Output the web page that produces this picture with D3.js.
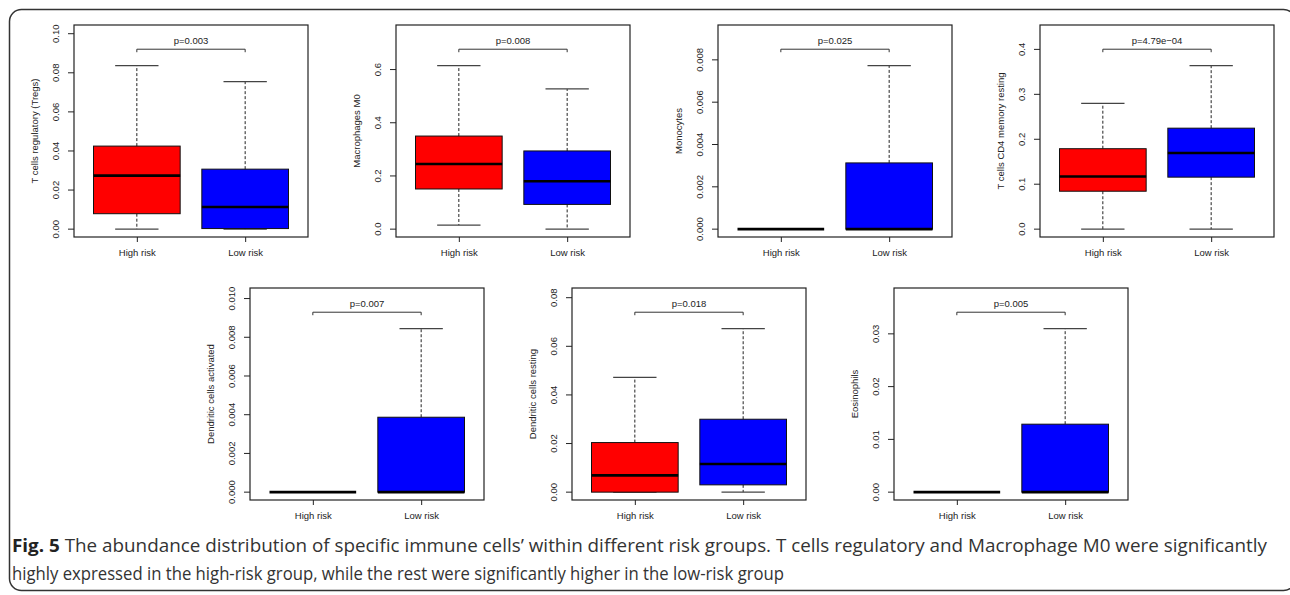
<!DOCTYPE html>
<html>
<head>
<meta charset="utf-8">
<script src="https://cdn.jsdelivr.net/npm/d3@7"></script>
<style>
  body { margin: 0; background: #fff; }
  svg { display: block; }
  .tiny { font-family: "Liberation Sans", Arial, sans-serif; font-size: 9.5px; fill: #222; }
  .caption { font-family: "Open Sans", "Noto Sans", sans-serif; font-size: 17.5px; fill: #333; }
</style>
</head>
<body>
<svg class="chart"></svg>
<script>
// values: [lower whisker, Q1, median, Q3, upper whisker]
const cellTypes = ["T cells regulatory (Tregs)", "Macrophages M0", "Monocytes",
    "T cells CD4 memory resting", "Dendritic cells activated", "Dendritic cells resting", "Eosinophils"];
const groups = ["High risk", "Low risk"];
const pLabels = ["p=0.003", "p=0.008", "p=0.025", "p=4.79e\u221204", "p=0.007", "p=0.018", "p=0.005"];
const highRisk = [
    [0, 0.0079, 0.0274, 0.0425, 0.0837],
    [0.015, 0.151, 0.245, 0.350, 0.615],
    [0, 0, 0, 0, 0],
    [0, 0.0844, 0.117, 0.179, 0.280],
    [0, 0, 0, 0, 0],
    [0, 0, 0.0069, 0.0204, 0.0472],
    [0, 0, 0, 0, 0]
];
const lowRisk = [
    [0, 0.0003, 0.0113, 0.0307, 0.0755],
    [0, 0.093, 0.180, 0.294, 0.527],
    [0, 0, 0, 0.00313, 0.00773],
    [0, 0.1157, 0.1694, 0.2247, 0.364],
    [0, 0, 0, 0.00387, 0.00845],
    [0, 0.0030, 0.0116, 0.0300, 0.0673],
    [0, 0, 0, 0.01288, 0.0310]
];
const yTickLabels = [
    ["0.00", "0.02", "0.04", "0.06", "0.08", "0.10"],
    ["0.0", "0.2", "0.4", "0.6"],
    ["0.000", "0.002", "0.004", "0.006", "0.008"],
    ["0.0", "0.1", "0.2", "0.3", "0.4"],
    ["0.000", "0.002", "0.004", "0.006", "0.008", "0.010"],
    ["0.00", "0.02", "0.04", "0.06", "0.08"],
    ["0.00", "0.01", "0.02", "0.03"]
];
const boxColors = ["#ff0000", "#0000ff"];

const canvas = {width: 1290, height: 595};
const plot = {width: 234, height: 212};
// plot-area top-left corners, 4 panels on top row and 3 below
const panelOrigins = [
    [74, 25], [396, 25], [718, 25], [1040, 25],
    [250, 288], [572, 288], [894, 288]
];

const svg = d3.select(".chart")
    .attr("width", canvas.width)
    .attr("height", canvas.height);

// rounded figure frame
svg.append("rect")
    .attr("x", 9.5).attr("y", 9.5)
    .attr("width", 1286).attr("height", 581)
    .attr("rx", 12)
    .attr("fill", "none")
    .attr("stroke", "#333")
    .attr("stroke-width", 1.5);

function drawPanel(i) {
    const [left, top] = panelOrigins[i];
    const g = svg.append("g").attr("transform", "translate(" + left + "," + top + ")");
    const stats = [highRisk[i], lowRisk[i]];

    // R style limits: ylim = c(0, 1.2 * max), then 4% padding
    const ymax = 1.2 * d3.max(stats, d => d[4]);
    const pad = 0.04 * ymax;
    const y = d3.scaleLinear().domain([-pad, ymax + pad]).range([plot.height, 0]);
    const x = d3.scaleLinear().domain([0.42, 2.58]).range([0, plot.width]);
    const bw = (x(1.4) - x(0.6));

    // y axis
    const ticks = yTickLabels[i].map(Number);
    const yAxis = d3.axisLeft(y).tickValues(ticks)
        .tickFormat((d, k) => yTickLabels[i][k]).tickSize(6).tickPadding(0);
    const ya = g.append("g").call(yAxis);
    ya.select(".domain").remove();
    ya.selectAll("line").attr("stroke", "#222");
    ya.selectAll("text")
        .attr("class", "tiny")
        .attr("x", 0).attr("dy", 0)
        .attr("transform", d => "translate(-19," + y(d) + ") rotate(-90)")
        .attr("y", null)
        .style("text-anchor", "middle")
        .attr("dominant-baseline", "central");
    ya.selectAll(".tick").attr("transform", null);
    ya.selectAll(".tick line").attr("y1", d => y(d)).attr("y2", d => y(d));

    // x axis
    const xAxis = d3.axisBottom(x).tickValues([1, 2])
        .tickFormat(d => groups[d - 1]).tickSize(5).tickPadding(7);
    const xa = g.append("g").attr("transform", "translate(0," + plot.height + ")").call(xAxis);
    xa.select(".domain").remove();
    xa.selectAll("line").attr("stroke", "#222");
    xa.selectAll("text").attr("class", "tiny").attr("font-size", null).attr("font-family", null);

    // axis title
    g.append("text")
        .attr("class", "tiny")
        .attr("transform", "translate(-40," + (plot.height / 2) + ") rotate(-90)")
        .attr("text-anchor", "middle")
        .attr("dominant-baseline", "central")
        .text(cellTypes[i]);

    // boxes
    stats.forEach((s, k) => {
        const cx = x(k + 1);
        const bg = g.append("g");
        // whiskers
        bg.append("line").attr("x1", cx).attr("x2", cx).attr("y1", y(s[3])).attr("y2", y(s[4]))
            .attr("stroke", "#222").attr("stroke-dasharray", "3,2");
        bg.append("line").attr("x1", cx).attr("x2", cx).attr("y1", y(s[1])).attr("y2", y(s[0]))
            .attr("stroke", "#222").attr("stroke-dasharray", "3,2");
        // staples
        [s[0], s[4]].forEach(v => {
            bg.append("line").attr("x1", cx - bw / 4).attr("x2", cx + bw / 4)
                .attr("y1", y(v)).attr("y2", y(v))
                .attr("stroke", "#444").attr("stroke-width", 1.2);
        });
        bg.append("rect")
            .attr("x", cx - bw / 2).attr("width", bw)
            .attr("y", y(s[3])).attr("height", Math.max(0, y(s[1]) - y(s[3])))
            .attr("fill", boxColors[k])
            .attr("stroke", "#111").attr("stroke-width", 1);
        bg.append("line").attr("x1", cx - bw / 2).attr("x2", cx + bw / 2)
            .attr("y1", y(s[2])).attr("y2", y(s[2]))
            .attr("stroke", "#000").attr("stroke-width", 2.6);
    });

    // significance bracket
    const by = y(1.1 * ymax / 1.2);
    g.append("path")
        .attr("d", "M" + x(1) + "," + (by + 3) + "V" + by + "H" + x(2) + "V" + (by + 3))
        .attr("fill", "none").attr("stroke", "#333").attr("stroke-width", 1);
    g.append("text")
        .attr("class", "tiny")
        .attr("x", (x(1) + x(2)) / 2).attr("y", by - 5)
        .attr("text-anchor", "middle")
        .text(pLabels[i]);

    // plot box
    g.append("rect")
        .attr("width", plot.width).attr("height", plot.height)
        .attr("fill", "none").attr("stroke", "#222").attr("stroke-width", 1.2);
}

cellTypes.forEach((c, i) => drawPanel(i));

// caption
const cap1 = svg.append("text").attr("class", "caption").attr("x", 12).attr("y", 552)
    .attr("textLength", 1255).attr("lengthAdjust", "spacingAndGlyphs");
cap1.append("tspan").attr("font-weight", "bold").attr("fill", "#222").text("Fig. 5");
cap1.append("tspan").text(" The abundance distribution of specific immune cells\u2019 within different risk groups. T cells regulatory and Macrophage M0 were significantly");
svg.append("text").attr("class", "caption").attr("x", 12).attr("y", 580)
    .attr("textLength", 772).attr("lengthAdjust", "spacingAndGlyphs")
    .text("highly expressed in the high-risk group, while the rest were significantly higher in the low-risk group");
</script>
</body>
</html>
